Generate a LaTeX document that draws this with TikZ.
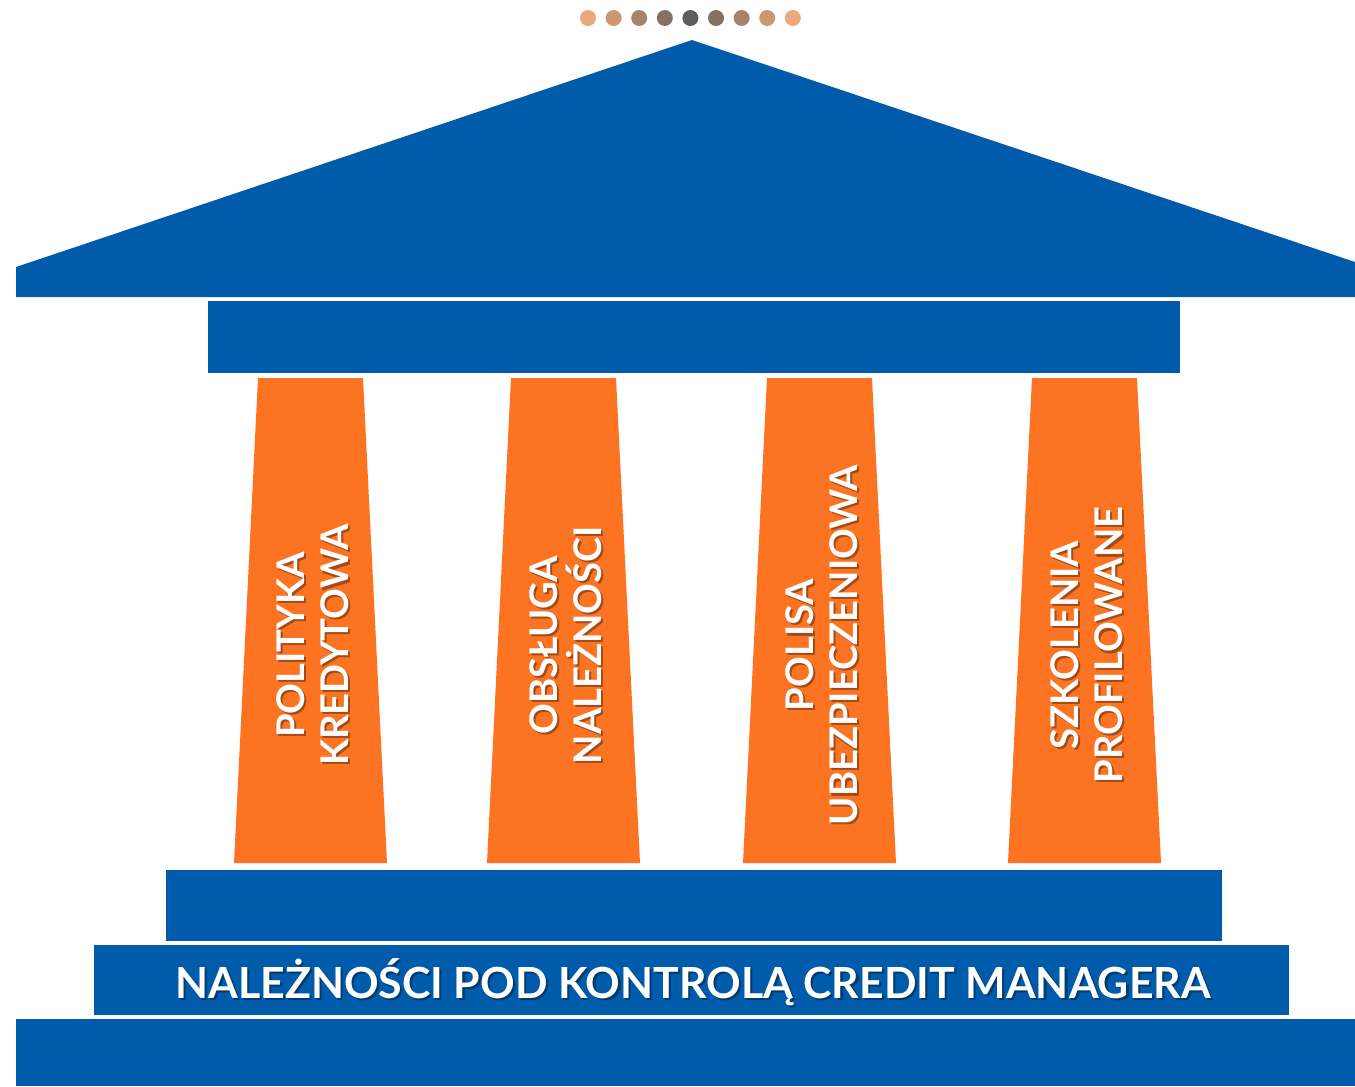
\documentclass[tikz,border=0pt]{standalone}
\usepackage{fontspec}
\setmainfont{Lato}
\usetikzlibrary{positioning}

\definecolor{roofblue}{RGB}{0,91,170}
\definecolor{pillar}{RGB}{252,115,34}
\definecolor{dotA}{RGB}{233,170,125}
\definecolor{dotB}{RGB}{204,150,112}
\definecolor{dotC}{RGB}{168,130,106}
\definecolor{dotD}{RGB}{133,112,98}
\definecolor{dotE}{RGB}{94,94,94}

\tikzset{
    slab/.style={fill=roofblue,draw=none},
    column/.style={fill=pillar,draw=none},
    label/.style={text=white,font=\bfseries,align=center,inner sep=0pt},
    shade/.style={text=black,opacity=0.35,font=\bfseries,align=center,inner sep=0pt}
}

\newcommand{\shadowtext}[4]{% name, position, rotation+size, text
    \node[shade,#3] at ([xshift=1.2pt,yshift=-1.2pt]#2) {#4};
    \node[label,#3] (#1) at (#2) {#4};
}

\begin{document}
\begin{tikzpicture}[x=0.02cm,y=0.02cm]
    \useasboundingbox (0,0) rectangle (1355,-1086);

    % dots on top of the roof
    \foreach \i/\c in {0/dotA,1/dotB,2/dotC,3/dotD,4/dotE,5/dotD,6/dotC,7/dotB,8/dotA}
        \fill[\c] (588+25.6*\i,-18) circle (8);

    % roof
    \fill[slab] (16,-297) -- (16,-267) -- (692,-40) -- (1355,-262) -- (1355,-297) -- cycle;
    \fill[slab] (208,-301) rectangle (1180,-373);

    % columns
    \foreach \n/\x in {1/310.5,2/563.5,3/819.5,4/1084.5}{
        \fill[column] (\x-52.5,-378) -- (\x+52.5,-378) -- (\x+76.5,-863) -- (\x-76.5,-863) -- cycle;
        \coordinate (c\n) at (\x+2,-645);
    }

    \shadowtext{pol}{c1}{rotate=90,font=\fontsize{21.7}{25}\bfseries}{POLITYKA\\KREDYTOWA}
    \shadowtext{obs}{c2}{rotate=90,font=\fontsize{21.7}{25}\bfseries}{OBSŁUGA\\NALEŻNOŚCI}
    \shadowtext{ins}{c3}{rotate=90,font=\fontsize{21.7}{25}\bfseries}{POLISA\\UBEZPIECZENIOWA}
    \shadowtext{trn}{c4}{rotate=90,font=\fontsize{21.7}{25}\bfseries}{SZKOLENIA\\PROFILOWANE}

    % steps
    \fill[slab] (166,-870) rectangle (1222,-941);
    \fill[slab] (94,-945) rectangle (1289,-1015);
    \fill[slab] (16,-1019) rectangle (1355,-1086);

    \coordinate (base) at (693,-982);
    \shadowtext{title}{base}{font=\fontsize{24.4}{28}\bfseries}{NALEŻNOŚCI POD KONTROLĄ CREDIT MANAGERA}

\end{tikzpicture}
\end{document}
